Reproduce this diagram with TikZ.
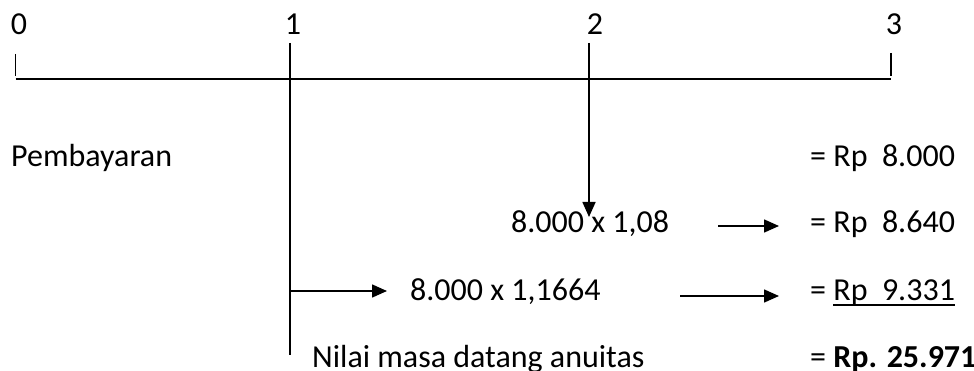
\documentclass[tikz,border=0pt]{standalone}
\usepackage{fontspec}
\setmainfont{Carlito}
\usetikzlibrary{arrows.meta}
\newcommand{\myul}[1]{\setbox0\hbox{#1}\rlap{\rule[-5.5pt]{\wd0}{1.8pt}}\box0}
\begin{document}
\begin{tikzpicture}[x=1pt,y=-1pt,
  lbl/.style={inner sep=0pt,anchor=base west,font=\fontsize{32}{38}\selectfont},
  num/.style={inner sep=0pt,anchor=base,font=\fontsize{32}{38}\selectfont},
  ln/.style={line width=1.6pt},
  arr/.style={line width=1.6pt,-{Triangle[length=15pt,width=13pt]}}]
\useasboundingbox (0,0) rectangle (974,371);
% period labels
\node[num] (n0) at (19,35) {0};
\node[num] (n1) at (293,35) {1};
\node[num] (n2) at (595,35) {2};
\node[num] (n3) at (894,35) {3};
% time line
\coordinate (a0) at (15.6,79.3);
\coordinate (a3) at (891,79.3);
\draw[ln] (a0) -- (a3);
\coordinate (t0a) at (15.6,54);
\coordinate (t0b) at (15.6,76);
\coordinate (t3a) at (891,53);
\coordinate (t3b) at (891,76);
\draw[line width=1.2pt] (t0a) -- (t0b);
\draw[line width=1.2pt] (t3a) -- (t3b);
\coordinate (t1a) at (290,43);
\coordinate (t1b) at (290,355);
\draw[ln] (t1a) -- (t1b);
\coordinate (t2a) at (589,43);
\coordinate (t2b) at (589,217);
\draw[arr] (t2a) -- (t2b);
% texts
\node[lbl] (pb) at (11,167) {Pembayaran};
\node[lbl] (r1) at (810,167) {= Rp~~8.000};
\node[lbl] (c2) at (511,233) {8.000 x 1,08};
\node[lbl] (r2) at (810,233) {= Rp~~8.640};
\node[lbl] (c3) at (410,300) {8.000 x 1,1664};
\node[lbl] (r3) at (810,300) {= \myul{Rp~~9.331}};
\node[lbl] (tl) at (312,367) {Nilai masa datang anuitas};
\node[lbl] (r4) at (810,367) {= \textbf{Rp. 25.971}};
% arrows
\coordinate (b1s) at (718,226);
\coordinate (b1e) at (779,226);
\draw[arr] (b1s) -- (b1e);
\coordinate (b2s) at (290,291);
\coordinate (b2e) at (387,291);
\draw[arr] (b2s) -- (b2e);
\coordinate (b3s) at (680,296);
\coordinate (b3e) at (779,296);
\draw[arr] (b3s) -- (b3e);
\end{tikzpicture}
\end{document}
